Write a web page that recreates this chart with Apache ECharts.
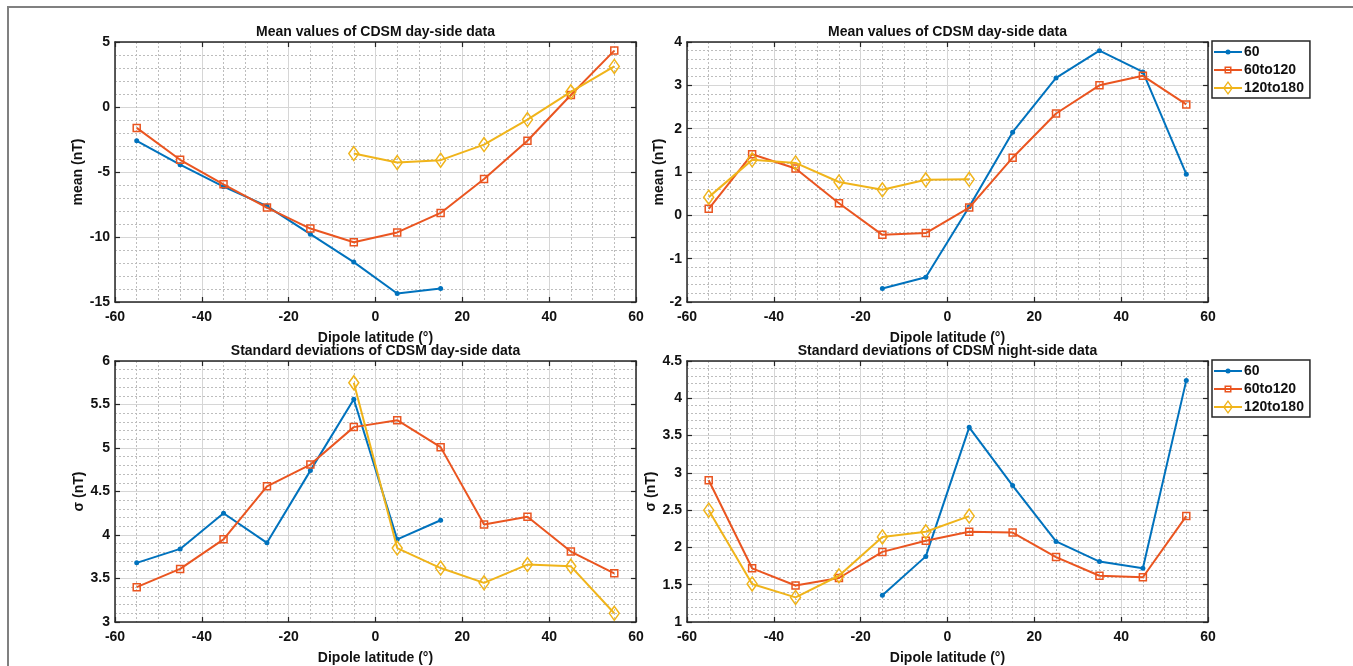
<!DOCTYPE html>
<html>
<head>
<meta charset="utf-8">
<script src="https://cdn.jsdelivr.net/npm/echarts@6/dist/echarts.min.js"></script>
<style>
  html, body { margin: 0; padding: 0; background: #fff; }
  #chart { width: 1353px; height: 666px; }
</style>
</head>
<body>
<div id="chart"></div>
<script>
// dipole latitude bin centres
const lat = [-55, -45, -35, -25, -15, -5, 5, 15, 25, 35, 45, 55];
const seriesNames = ["60", "60to120", "120to180"];

// top-left: mean, day-side
const dayMean60 = [-2.6, -4.44, -6.13, -7.62, -9.78, -11.93, -14.35, -13.97, null, null, null, null];
const dayMean60to120 = [-1.61, -4.06, -5.95, -7.74, -9.35, -10.4, -9.65, -8.15, -5.54, -2.6, 0.92, 4.34];
const dayMean120to180 = [null, null, null, null, null, -3.58, -4.27, -4.09, -2.89, -0.97, 1.17, 3.12];

// top-right: mean (second panel)
const nightMean60 = [null, null, null, null, -1.69, -1.43, 0.2, 1.92, 3.17, 3.8, 3.31, 0.95];
const nightMean60to120 = [0.15, 1.41, 1.08, 0.28, -0.45, -0.41, 0.18, 1.33, 2.35, 3.0, 3.22, 2.56];
const nightMean120to180 = [0.42, 1.28, 1.21, 0.77, 0.59, 0.82, 0.83, null, null, null, null, null];

// bottom-left: std, day-side
const dayStd60 = [3.68, 3.84, 4.25, 3.91, 4.74, 5.56, 3.95, 4.17, null, null, null, null];
const dayStd60to120 = [3.40, 3.61, 3.95, 4.56, 4.81, 5.24, 5.32, 5.01, 4.12, 4.21, 3.81, 3.56];
const dayStd120to180 = [null, null, null, null, null, 5.75, 3.85, 3.62, 3.45, 3.66, 3.64, 3.10];

// bottom-right: std, night-side
const nightStd60 = [null, null, null, null, 1.36, 1.88, 3.61, 2.83, 2.08, 1.81, 1.72, 4.24];
const nightStd60to120 = [2.90, 1.72, 1.49, 1.59, 1.94, 2.09, 2.21, 2.20, 1.87, 1.62, 1.60, 2.42];
const nightStd120to180 = [2.50, 1.51, 1.33, 1.62, 2.14, 2.21, 2.42, null, null, null, null, null];

const BLUE = "#0072BD";
const ORANGE = "#EA5520";
const YELLOW = "#F0B41A";
const FONT = "Liberation Sans, Arial, sans-serif";

const styles = {
  "60": { symbol: "circle", size: 5, color: BLUE, fill: BLUE, bw: 0 },
  "60to120": { symbol: "rect", size: 7, color: ORANGE, fill: "rgba(255,255,255,0)", bw: 1.5 },
  "120to180": { symbol: "diamond", size: [10, 14], color: YELLOW, fill: "rgba(255,255,255,0)", bw: 1.5 }
};

// legend icons: line + marker in one 28x14 path (hollow markers via reversed winding)
const legendIcons = {
  "60": "path://M0,6H28V8H0Z M11.5,7A2.5,2.5 0 1,1 16.5,7A2.5,2.5 0 1,1 11.5,7Z",
  "60to120": "path://M0,6H28V8H0Z M10.5,3.5H17.5V10.5H10.5Z M12,5V9H16V5Z",
  "120to180": "path://M0,6H28V8H0Z M14,0L19,7L14,14L9,7Z M14,2.2L10.6,7L14,11.8L17.4,7Z"
};

const panels = [
  { title: "Mean values of CDSM day-side data", yName: "mean (nT)", min: -15, max: 5, step: 5, nameGap: 30,
    left: 115, top: 42, height: 260, data: [dayMean60, dayMean60to120, dayMean120to180] },
  { title: "Mean values of CDSM day-side data", yName: "mean (nT)", min: -2, max: 4, step: 1, nameGap: 20,
    left: 687, top: 42, height: 260, data: [nightMean60, nightMean60to120, nightMean120to180] },
  { title: "Standard deviations of CDSM day-side data", yName: "σ (nT)", min: 3, max: 6, step: 0.5, nameGap: 28,
    left: 115, top: 361, height: 261, data: [dayStd60, dayStd60to120, dayStd120to180] },
  { title: "Standard deviations of CDSM night-side data", yName: "σ (nT)", min: 1, max: 4.5, step: 0.5, nameGap: 28,
    left: 687, top: 361, height: 261, data: [nightStd60, nightStd60to120, nightStd120to180] }
];
const plotWidth = 521;

const labelStyle = { color: "#111", fontFamily: FONT, fontWeight: "bold", fontSize: 14 };
const boxLine = { show: true, onZero: false, lineStyle: { color: "#262626", width: 1.5 } };
const innerTick = { show: true, inside: true, length: 5, lineStyle: { color: "#262626", width: 1.2 } };
const majorGrid = { show: true, lineStyle: { color: "#d6d6d6", width: 1 } };
const minorGrid = { show: true, lineStyle: { color: "#bdbdbd", width: 1, type: [2, 2] } };

let grids = [], xAxes = [], yAxes = [], titles = [], series = [];

panels.forEach((p, i) => {
  grids.push({ left: p.left, top: p.top, width: plotWidth, height: p.height });
  titles.push({
    text: p.title, left: p.left + plotWidth / 2, top: p.top - 17, textAlign: "center", padding: 0,
    textStyle: { color: "#111", fontFamily: FONT, fontWeight: "bold", fontSize: 14 }
  });
  // bottom x axis with labels
  xAxes.push({
    type: "value", gridIndex: i, min: -60, max: 60, interval: 20, position: "bottom",
    name: "Dipole latitude (°)", nameLocation: "middle", nameGap: 29,
    nameTextStyle: { color: "#111", fontFamily: FONT, fontWeight: "bold", fontSize: 14 },
    axisLine: boxLine, axisTick: innerTick, axisLabel: Object.assign({ margin: 8 }, labelStyle),
    splitLine: majorGrid, minorTick: { show: false, splitNumber: 4 }, minorSplitLine: minorGrid
  });
  // top x axis: only box edge and ticks
  xAxes.push({
    type: "value", gridIndex: i, min: -60, max: 60, interval: 20, position: "top",
    axisLine: boxLine, axisTick: innerTick, axisLabel: { show: false }, splitLine: { show: false }
  });
  yAxes.push({
    type: "value", gridIndex: i, min: p.min, max: p.max, interval: p.step, position: "left",
    name: p.yName, nameLocation: "middle", nameGap: p.nameGap, nameRotate: 90,
    nameTextStyle: { color: "#111", fontFamily: FONT, fontWeight: "bold", fontSize: 14 },
    axisLine: boxLine, axisTick: innerTick, axisLabel: Object.assign({ margin: 5 }, labelStyle),
    splitLine: majorGrid, minorTick: { show: false, splitNumber: 5 }, minorSplitLine: minorGrid
  });
  yAxes.push({
    type: "value", gridIndex: i, min: p.min, max: p.max, interval: p.step, position: "right",
    axisLine: boxLine, axisTick: innerTick, axisLabel: { show: false }, splitLine: { show: false }
  });

  p.data.forEach((vals, k) => {
    const nm = seriesNames[k];
    const st = styles[nm];
    const pts = [];
    vals.forEach((v, j) => { if (v !== null) pts.push([lat[j], v]); });
    series.push({
      name: nm, type: "line", xAxisIndex: i * 2, yAxisIndex: i * 2, data: pts,
      symbol: st.symbol, symbolSize: st.size, showAllSymbol: true,
      lineStyle: { color: st.color, width: 2 },
      itemStyle: { color: st.fill, borderColor: st.color, borderWidth: st.bw },
      emphasis: { disabled: true }, z: 3 + k
    });
  });
});

const legendData = seriesNames.map(nm => ({
  name: nm,
  icon: legendIcons[nm],
  itemStyle: { color: styles[nm].color, borderWidth: 0 }
}));

const legendBase = {
  orient: "vertical", left: 1212, itemWidth: 28, itemHeight: 14, itemGap: 4,
  padding: [4, 6, 3, 2], borderColor: "#262626", borderWidth: 1.5, backgroundColor: "#fff",
  textStyle: { color: "#111", fontFamily: FONT, fontWeight: "bold", fontSize: 14, padding: [0, 0, 0, -3] },
  data: legendData, selectedMode: false
};

let myChart = echarts.init(document.getElementById("chart"));
myChart.setOption({
  animation: false,
  backgroundColor: "#fff",
  title: titles,
  grid: grids,
  xAxis: xAxes,
  yAxis: yAxes,
  legend: [
    Object.assign({ top: 41 }, legendBase),
    Object.assign({ top: 360 }, legendBase)
  ],
  graphic: [{
    type: "rect", silent: true,
    shape: { x: 8, y: 7, width: 1400, height: 700 },
    style: { fill: "none", stroke: "#808080", lineWidth: 2 }
  }],
  series: series
});
</script>
</body>
</html>
